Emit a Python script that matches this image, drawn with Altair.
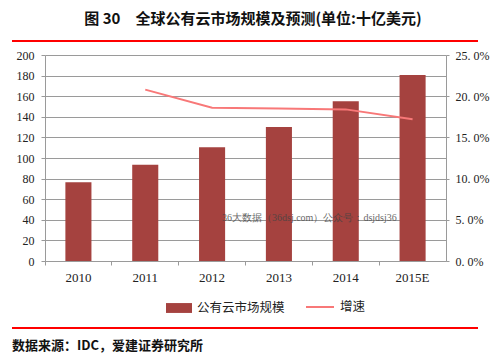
import altair as alt
import pandas as pd

years = ["2010", "2011", "2012", "2013", "2014", "2015E"]
market = [76.5, 93.5, 110.5, 130.0, 155.0, 180.5]
growth = [None, 0.208, 0.186, 0.185, 0.184, 0.172]

bar_name = "公有云市场规模"
line_name = "增速"
title_text = "图 30　全球公有云市场规模及预测(单位:十亿美元)"
source_text = "数据来源：IDC，爱建证券研究所"
watermark_text = "36大数据（36dsj.com）公众号：dsjdsj36"

left_ticks = list(range(0, 201, 20))
right_ticks = [0, 0.05, 0.10, 0.15, 0.20, 0.25]

BAR_COLOR = "#A5423F"
LINE_COLOR = "#F87878"
GRID = "#9A9A9A"
SERIF = "Liberation Serif"
CJK = "Noto Sans CJK SC"

df = pd.DataFrame({"year": years, "market": market, "growth": growth})
df["s1"] = bar_name
df["s2"] = line_name
line_df = df.dropna(subset=["growth"])

x_enc = alt.X(
    "year:N", sort=years,
    scale=alt.Scale(paddingInner=0, paddingOuter=0),
    axis=alt.Axis(title=None, labelAngle=0, bandPosition=0, grid=False,
                  domainColor=GRID, tickColor=GRID, tickSize=4, labelPadding=6,
                  labelFont=SERIF, labelFontSize=13, labelColor="#222"),
)

bars = alt.Chart(df).mark_bar(width=alt.RelativeBandSize(0.39)).encode(
    x=x_enc,
    y=alt.Y("market:Q", scale=alt.Scale(domain=[0, 200], nice=False),
            axis=alt.Axis(title=None, values=left_ticks, grid=True, gridColor=GRID,
                          domainColor=GRID, tickColor=GRID, tickSize=4, labelPadding=7,
                          labelFont=SERIF, labelFontSize=12, labelColor="#222")),
    fill=alt.Fill("s1:N", scale=alt.Scale(range=[BAR_COLOR]),
                  legend=alt.Legend(orient="none", legendX=121, legendY=240, title=None,
                                    symbolType="M-1,-0.38L1,-0.38L1,0.38L-1,0.38Z",
                                    symbolSize=676, symbolStrokeWidth=0, padding=0,
                                    labelFont=CJK, labelFontSize=12.5, labelColor="#222",
                                    labelOffset=5)),
)

line = alt.Chart(line_df).mark_line(strokeWidth=2).encode(
    x=alt.X("year:N", sort=years),
    y=alt.Y("growth:Q", scale=alt.Scale(domain=[0, 0.25], nice=False),
            axis=alt.Axis(title=None, orient="right", values=right_ticks, grid=False,
                          format=".1%", labelExpr="replace(datum.label, '.', '. ')",
                          domainColor=GRID, tickColor=GRID, tickSize=3, labelPadding=6,
                          labelFont=SERIF, labelFontSize=12, labelColor="#222")),
    stroke=alt.Stroke("s2:N", scale=alt.Scale(range=[LINE_COLOR]),
                      legend=alt.Legend(orient="none", legendX=260, legendY=237, title=None,
                                        symbolType="stroke", symbolSize=784,
                                        symbolStrokeWidth=2, padding=0,
                                        labelFont=CJK, labelFontSize=12.5, labelColor="#222",
                                        labelOffset=5)),
)

one = pd.DataFrame({"t": [title_text]})

title = alt.Chart(pd.DataFrame({"t": [title_text]})).mark_text(
    font=CJK, fontSize=15, fontWeight="bold", color="#111", align="center", baseline="middle"
).encode(x=alt.value(208), y=alt.value(-36), text="t:N")

rule_top = alt.Chart(one).mark_rule(color="#FF0000", strokeWidth=2.2).encode(
    x=alt.value(-33), x2=alt.value(433), y=alt.value(-14))
rule_bottom = alt.Chart(one).mark_rule(color="#FF0000", strokeWidth=2.2).encode(
    x=alt.value(-33), x2=alt.value(433), y=alt.value(273))

source = alt.Chart(pd.DataFrame({"t": [source_text]})).mark_text(
    font=CJK, fontSize=13, fontWeight="bold", color="#111", align="left", baseline="middle"
).encode(x=alt.value(-33), y=alt.value(291), text="t:N")

watermark = alt.Chart(pd.DataFrame({"t": [watermark_text]})).mark_text(
    font=SERIF, fontSize=10, color="#444", align="left", baseline="middle", opacity=0.8
).encode(x=alt.value(177), y=alt.value(163), text="t:N")

chart = alt.layer(bars, line, watermark, title, rule_top, rule_bottom, source).resolve_scale(
    y="independent"
).properties(
    width=401, height=206, autosize="none",
    padding={"left": 37, "top": 47, "right": 46, "bottom": 94},
    background="white",
).configure_view(stroke=None)

chart.save("out.html", embed_options={"renderer": "svg", "actions": False})
